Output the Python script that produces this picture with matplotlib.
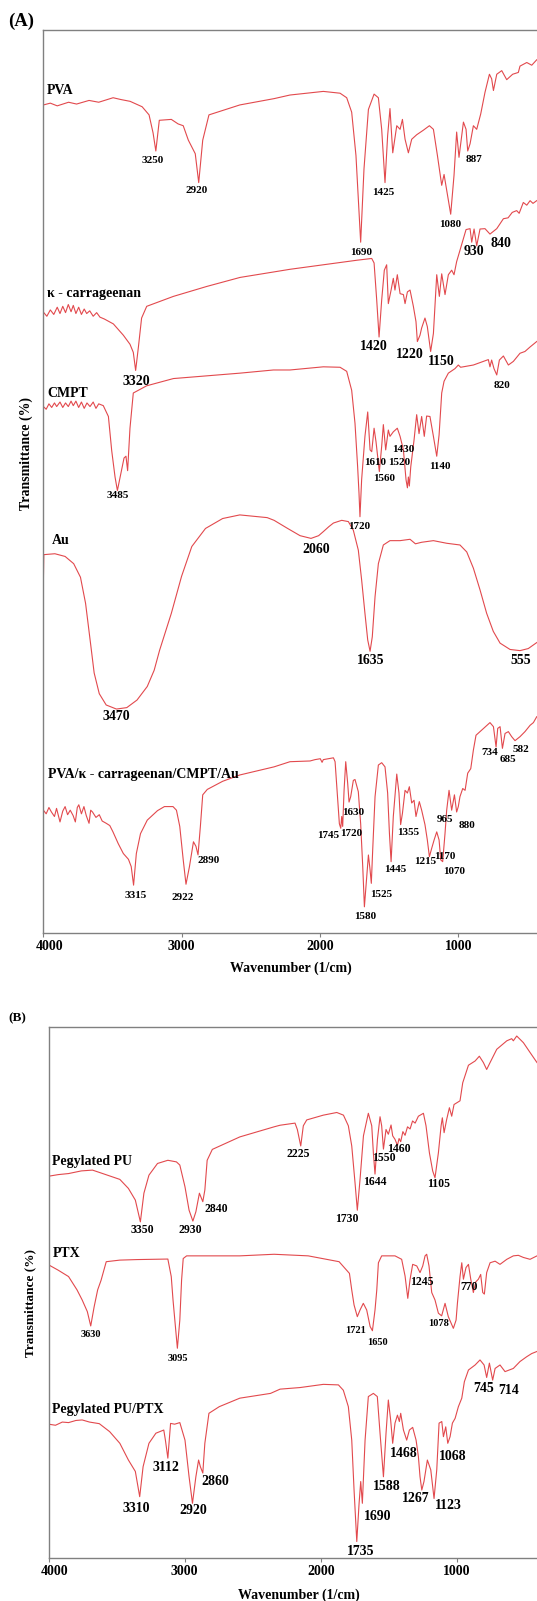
import matplotlib
matplotlib.use("Agg")
import matplotlib.pyplot as plt
import matplotlib.transforms as mtransforms
import numpy as np

# FTIR spectra, (wavenumber 1/cm, transmittance in arbitrary %)

# Panel (A)
PVA = [(4000, 91.7), (3950, 91.9), (3900, 91.6), (3818, 92.0), (3760, 91.8), (3670, 92.2), (3600, 92.0),
       (3496, 92.5), (3440, 92.3), (3373, 92.1), (3286, 91.5), (3236, 90.6), (3207, 88.6), (3187, 86.6),
       (3162, 90.0), (3075, 90.1), (3026, 89.6), (2989, 89.4), (2952, 87.8), (2902, 86.3), (2877, 83.1),
       (2848, 87.8), (2803, 90.6), (2580, 91.7), (2332, 92.4), (2217, 92.8), (2096, 93.0), (1976, 93.2),
       (1855, 93.0), (1807, 92.5), (1771, 90.9), (1740, 86.1), (1706, 76.5), (1682, 84.6), (1650, 91.2),
       (1609, 92.9), (1578, 92.5), (1554, 89.0), (1530, 83.1), (1511, 88.3), (1494, 91.3), (1474, 86.4),
       (1445, 89.4), (1421, 89.0), (1404, 90.1), (1385, 87.9), (1361, 86.4), (1337, 87.9), (1301, 88.4),
       (1253, 88.9), (1209, 89.4), (1180, 89.0), (1151, 86.1), (1120, 82.8), (1103, 84.0), (1055, 79.6),
       (1031, 83.9), (1012, 88.7), (995, 85.9), (963, 89.8), (944, 89.0), (932, 86.6), (915, 87.4),
       (891, 89.4), (867, 89.0), (838, 90.7), (807, 93.1), (775, 95.1), (759, 94.6), (746, 93.3),
       (722, 95.1), (686, 95.5), (650, 94.5), (607, 95.1), (566, 95.3), (554, 96.0), (505, 96.4),
       (469, 96.1), (433, 96.7)]

KCARR = [(4000, 68.75), (3975, 68.3), (3950, 69.0), (3925, 68.5), (3900, 69.3), (3880, 68.6), (3860, 69.4),
         (3840, 68.7), (3820, 69.6), (3800, 68.8), (3784, 69.5), (3765, 68.6), (3745, 69.3), (3725, 68.5),
         (3705, 69.1), (3687, 68.6), (3665, 68.9), (3640, 68.3), (3615, 68.7), (3591, 68.2), (3560, 68.0),
         (3494, 67.45), (3422, 66.2), (3374, 65.2), (3350, 64.3), (3333, 62.3), (3313, 64.9), (3290, 68.1),
         (3253, 69.4), (3060, 70.5), (2819, 71.6), (2578, 72.6), (2337, 73.2), (2217, 73.5), (1976, 74.0),
         (1735, 74.5), (1626, 74.7), (1609, 74.2), (1590, 70.1), (1573, 66.0), (1554, 70.1), (1535, 73.4),
         (1518, 74.0), (1506, 69.7), (1486, 71.2), (1470, 72.5), (1458, 71.2), (1441, 72.9), (1421, 70.8),
         (1397, 70.7), (1385, 69.7), (1368, 71.0), (1349, 71.2), (1325, 69.4), (1306, 67.7), (1296, 65.5),
         (1277, 66.2), (1265, 67.0), (1241, 68.1), (1224, 67.15), (1200, 64.4), (1180, 66.4), (1156, 72.9),
         (1137, 70.5), (1120, 73.0), (1096, 70.7), (1072, 72.9), (1048, 73.4), (1031, 72.9), (1012, 74.35),
         (988, 75.6), (944, 77.9), (915, 78.0), (903, 76.5), (886, 77.96), (867, 76.1), (843, 77.96),
         (807, 78.0), (771, 77.4), (722, 78.0), (674, 79.1), (640, 79.2), (610, 79.8), (578, 80.0),
         (560, 79.7), (530, 80.9), (505, 80.6), (481, 81.1), (460, 80.8), (433, 81.1)]

CMPT = [(4000, 58.3), (3980, 58.0), (3960, 58.6), (3940, 58.2), (3920, 58.7), (3904, 58.3), (3880, 58.8),
        (3860, 58.2), (3840, 58.7), (3820, 58.3), (3800, 58.9), (3784, 58.4), (3765, 58.9), (3745, 58.2),
        (3725, 58.8), (3705, 58.1), (3685, 58.7), (3663, 58.3), (3640, 58.8), (3620, 58.1), (3600, 58.6),
        (3567, 58.4), (3530, 57.2), (3506, 53.4), (3482, 50.5), (3465, 49.0), (3441, 50.8), (3417, 52.6),
        (3403, 52.8), (3391, 51.2), (3374, 55.9), (3350, 59.8), (3253, 60.6), (3060, 61.4), (2819, 61.7),
        (2578, 62.0), (2337, 62.35), (2217, 62.35), (1976, 62.7), (1855, 62.65), (1807, 62.2), (1771, 60.1),
        (1747, 56.45), (1728, 51.65), (1718, 48.7), (1711, 46.1), (1699, 50.2), (1675, 55.0), (1655, 57.7),
        (1638, 53.5), (1626, 53.3), (1609, 55.9), (1595, 54.4), (1571, 51.1), (1554, 53.9), (1542, 56.3),
        (1525, 53.5), (1506, 55.7), (1494, 55.0), (1470, 55.5), (1441, 55.9), (1421, 55.0), (1397, 53.5),
        (1378, 50.2), (1368, 49.3), (1361, 50.5), (1354, 49.5), (1344, 51.6), (1320, 54.6), (1301, 57.4),
        (1284, 55.3), (1265, 57.2), (1246, 55.0), (1229, 57.25), (1205, 57.2), (1180, 55.0), (1156, 52.8),
        (1139, 55.15), (1120, 59.8), (1103, 61.1), (1072, 62.0), (1024, 62.5), (1000, 62.9), (983, 62.65),
        (891, 62.9), (783, 63.5), (771, 62.7), (759, 63.45), (742, 62.5), (722, 61.8), (703, 63.45),
        (674, 63.9), (638, 62.9), (602, 63.3), (554, 64.2), (518, 64.4), (481, 64.9), (433, 65.5)]

AU = [(4000, 36.5), (4000, 39.1), (3997, 41.9), (3917, 42.0), (3843, 41.7), (3781, 40.9), (3732, 39.4),
      (3695, 36.5), (3657, 31.8), (3633, 28.8), (3596, 26.5), (3546, 25.25), (3472, 24.8), (3397, 24.96),
      (3323, 25.8), (3249, 27.3), (3199, 29.1), (3160, 31.3), (3075, 35.4), (3001, 39.5), (2927, 42.8),
      (2828, 44.8), (2704, 45.9), (2580, 46.3), (2382, 46.0), (2332, 45.7), (2234, 44.8), (2144, 44.0),
      (2065, 43.7), (2010, 44.0), (1976, 44.45), (1936, 45.0), (1903, 45.4), (1843, 45.7), (1795, 45.56),
      (1759, 44.6), (1723, 42.4), (1699, 39.1), (1675, 35.4), (1655, 32.45), (1638, 31.2), (1622, 32.8),
      (1602, 37.25), (1578, 40.9), (1542, 42.97), (1494, 43.45), (1421, 43.45), (1349, 43.6), (1310, 43.1),
      (1265, 43.27), (1180, 43.45), (1084, 43.16), (988, 42.97), (939, 42.2), (891, 40.4), (843, 38.0),
      (795, 35.4), (747, 33.4), (698, 32.1), (626, 31.4), (554, 31.27), (494, 31.5), (433, 32.16)]

COMPOSITE = [(4000, 13.6), (3980, 13.2), (3960, 13.9), (3942, 13.4), (3920, 12.9), (3905, 13.8), (3880, 12.3),
             (3860, 13.5), (3843, 14.0), (3825, 13.1), (3806, 13.6), (3785, 13.0), (3769, 12.3), (3755, 13.9),
             (3744, 14.2), (3725, 13.2), (3707, 14.0), (3690, 13.0), (3670, 12.15), (3658, 13.6), (3645, 13.4),
             (3620, 12.8), (3596, 13.1), (3575, 12.4), (3546, 12.15), (3520, 11.9), (3497, 11.2), (3459, 9.9),
             (3422, 8.8), (3385, 8.16), (3365, 7.35), (3348, 5.3), (3328, 8.8), (3298, 11.0), (3249, 12.5),
             (3175, 13.55), (3125, 14.0), (3063, 14.0), (3038, 13.6), (3014, 11.8), (2989, 8.1), (2969, 5.4),
             (2944, 7.35), (2915, 10.1), (2897, 9.6), (2882, 8.65), (2865, 11.8), (2848, 15.3), (2815, 15.9),
             (2704, 16.8), (2580, 17.5), (2456, 17.95), (2332, 18.4), (2217, 18.97), (2072, 19.05),
             (2036, 19.2), (1998, 19.3), (1985, 18.9), (1976, 19.2), (1903, 19.4), (1891, 18.97), (1875, 15.5),
             (1860, 12.1), (1850, 11.6), (1843, 12.9), (1836, 11.8), (1826, 15.8), (1814, 18.97), (1800, 16.6),
             (1790, 14.5), (1778, 15.1), (1759, 16.9), (1747, 17.0), (1723, 15.65), (1706, 12.1), (1691, 7.35),
             (1679, 2.9), (1662, 6.2), (1650, 8.64), (1638, 7.0), (1629, 5.5), (1619, 9.2), (1602, 15.1),
             (1578, 18.6), (1554, 18.86), (1530, 18.4), (1511, 15.5), (1498, 11.04), (1486, 7.9), (1470, 12.9),
             (1445, 17.6), (1429, 15.5), (1417, 12.0), (1404, 13.25), (1385, 15.8), (1368, 15.5), (1354, 16.2),
             (1337, 14.4), (1320, 14.7), (1306, 12.9), (1282, 14.55), (1265, 13.6), (1241, 12.0), (1224, 10.3),
             (1209, 8.45), (1192, 9.4), (1175, 10.3), (1156, 11.2), (1139, 10.3), (1127, 8.1), (1113, 7.9),
             (1096, 11.04), (1084, 13.6), (1067, 15.8), (1048, 13.6), (1028, 15.3), (1012, 13.4), (1000, 14.0),
             (988, 15.1), (968, 16.0), (951, 15.8), (932, 17.7), (910, 18.2), (891, 20.26), (872, 21.9),
             (843, 22.3), (807, 22.8), (771, 23.3), (746, 22.85), (727, 20.6), (715, 22.66), (698, 22.85),
             (681, 20.45), (662, 22.1), (638, 22.3), (614, 21.74), (590, 21.3), (554, 21.74), (518, 22.3),
             (481, 23.0), (457, 23.3), (433, 23.95)]

# Panel (B)
PEG_PU = [(4000, 71.9), (3930, 72.2), (3854, 72.4), (3760, 72.9), (3678, 73.05), (3603, 72.4), (3477, 71.3),
          (3414, 69.6), (3363, 67.4), (3326, 63.3), (3300, 68.7), (3263, 72.1), (3200, 74.3), (3124, 74.9),
          (3061, 74.6), (3036, 74.0), (2998, 69.9), (2968, 65.5), (2940, 63.45), (2918, 65.2), (2892, 68.7),
          (2867, 67.1), (2852, 69.3), (2835, 74.9), (2797, 76.95), (2595, 79.3), (2343, 81.2), (2299, 81.5),
          (2189, 81.9), (2172, 80.7), (2147, 77.6), (2128, 81.4), (2103, 82.5), (1981, 83.4), (1882, 83.9),
          (1833, 83.4), (1797, 81.4), (1772, 77.6), (1748, 70.7), (1731, 65.5), (1711, 71.3), (1686, 79.5),
          (1650, 83.75), (1625, 81.4), (1613, 76.3), (1601, 72.3), (1583, 78.85), (1564, 83.1), (1552, 81.4),
          (1539, 77.0), (1520, 80.7), (1503, 79.8), (1483, 81.55), (1471, 79.5), (1454, 78.85), (1436, 77.7),
          (1424, 79.0), (1412, 78.4), (1396, 80.3), (1380, 79.6), (1362, 81.2), (1343, 80.8), (1325, 82.3),
          (1306, 81.9), (1282, 83.2), (1245, 83.75), (1226, 81.4), (1201, 76.3), (1177, 72.9), (1160, 71.6),
          (1135, 76.3), (1115, 81.4), (1106, 82.9), (1093, 80.1), (1074, 82.6), (1054, 84.8), (1037, 83.2),
          (1020, 85.4), (976, 86.1), (956, 89.5), (914, 92.8), (865, 93.6), (834, 94.5), (804, 93.3),
          (780, 92.0), (755, 93.3), (706, 95.8), (632, 97.4), (596, 97.8), (584, 97.4), (559, 98.3),
          (510, 97.05), (461, 95.2), (410, 93.3)]

PTX = [(4000, 55.2), (3930, 54.2), (3854, 53.0), (3792, 50.5), (3754, 48.6), (3716, 46.4), (3691, 43.7),
       (3666, 47.3), (3640, 50.5), (3615, 52.3), (3577, 55.8), (3477, 56.1), (3351, 56.2), (3124, 56.3),
       (3099, 53.0), (3086, 48.6), (3066, 42.9), (3054, 39.5), (3036, 44.8), (3023, 52.35), (3011, 56.4),
       (2986, 56.9), (2595, 56.9), (2343, 57.2), (2092, 56.9), (1865, 55.8), (1789, 53.6), (1772, 50.47),
       (1755, 47.65), (1731, 45.45), (1711, 46.7), (1687, 47.96), (1662, 46.7), (1637, 43.6), (1620, 42.8),
       (1601, 46.7), (1588, 50.47), (1576, 55.6), (1552, 56.9), (1454, 56.9), (1405, 56.25), (1380, 53.1),
       (1360, 48.9), (1343, 52.5), (1324, 55.3), (1294, 55.0), (1270, 53.75), (1250, 55.0), (1233, 56.9),
       (1221, 57.2), (1204, 55.0), (1184, 50.0), (1160, 48.6), (1135, 46.1), (1111, 45.6), (1086, 47.96),
       (1062, 45.45), (1025, 43.25), (1005, 44.8), (995, 48.0), (976, 53.0), (963, 55.6), (951, 52.5),
       (932, 54.7), (914, 55.3), (897, 52.5), (878, 50.0), (860, 52.0), (841, 52.5), (824, 53.4),
       (809, 50.0), (797, 49.7), (780, 53.75), (755, 55.6), (718, 55.9), (682, 55.3), (632, 56.25),
       (584, 56.9), (547, 57.0), (510, 56.6), (461, 56.25), (410, 56.9)]

PEG_PU_PTX = [(4000, 25.2), (3950, 25.0), (3900, 25.6), (3854, 25.5), (3800, 25.9), (3754, 26.0), (3700, 25.6),
              (3628, 25.3), (3552, 23.8), (3477, 21.6), (3414, 18.45), (3363, 16.3), (3331, 11.55), (3306, 17.2),
              (3263, 21.6), (3212, 23.5), (3154, 24.1), (3142, 22.2), (3124, 18.8), (3104, 25.35), (3074, 25.2),
              (3036, 25.5), (2998, 22.2), (2968, 15.3), (2943, 10.3), (2918, 15.3), (2898, 18.45), (2885, 17.2),
              (2867, 16.0), (2852, 21.6), (2822, 27.25), (2746, 28.5), (2595, 30.1), (2369, 31.0), (2299, 31.8),
              (2152, 32.1), (1981, 32.7), (1870, 32.6), (1834, 31.6), (1797, 28.5), (1772, 22.2), (1755, 12.8),
              (1735, 3.1), (1718, 10.3), (1706, 14.4), (1694, 10.3), (1674, 22.2), (1650, 30.4), (1613, 31.0),
              (1584, 30.4), (1564, 23.5), (1539, 15.3), (1520, 23.5), (1503, 29.75), (1486, 26.0), (1471, 21.6),
              (1454, 25.4), (1436, 26.9), (1422, 25.7), (1412, 27.25), (1392, 24.1), (1368, 22.2), (1348, 24.1),
              (1324, 24.6), (1299, 22.2), (1282, 19.1), (1270, 15.3), (1257, 12.8), (1241, 14.4), (1216, 18.45),
              (1191, 16.6), (1167, 11.2), (1147, 16.6), (1130, 25.4), (1110, 25.7), (1098, 22.85), (1081, 24.7),
              (1066, 21.6), (1049, 22.85), (1032, 25.4), (1012, 26.3), (988, 28.5), (963, 30.1), (944, 33.2),
              (914, 35.4), (865, 36.35), (829, 37.3), (799, 36.35), (780, 34.0), (760, 36.7), (736, 33.5),
              (718, 35.7), (682, 36.35), (645, 35.1), (584, 35.7), (535, 37.0), (486, 37.9), (449, 38.5),
              (410, 38.9)]

SPECTRA_A = [PVA, KCARR, CMPT, AU, COMPOSITE]
SPECTRA_B = [PEG_PU, PTX, PEG_PU_PTX]

NAMES_A = [("PVA", 3974, 93.3), ("κ - carrageenan", 3972, 70.8), ("CMPT", 3972, 59.7),
           ("Au", 3942, 43.5), ("PVA/κ - carrageenan/CMPT/Au", 3967, 17.5)]
NAMES_B = [("Pegylated PU", 3973, 74.6), ("PTX", 3973, 57.4), ("Pegylated PU/PTX", 3973, 28.05)]

# peak labels: text, wavenumber, transmittance, font size
PEAKS_A = [("3250", 3207, 85.6, 8), ("2920", 2890, 82.2, 8), ("1690", 1701, 75.4, 8), ("1425", 1540, 82.0, 8),
           ("1080", 1057, 78.5, 8), ("887", 889, 85.7, 8), ("930", 884, 75.45, 10), ("840", 693, 76.4, 10),
           ("1420", 1614, 65.0, 10), ("1220", 1354, 64.1, 10), ("1150", 1124, 63.3, 10), ("3320", 3328, 61.05, 10),
           ("820", 686, 60.6, 8), ("1430", 1396, 53.5, 8), ("1610", 1602, 52.1, 8), ("1520", 1429, 52.1, 8),
           ("1560", 1533, 50.3, 8), ("1140", 1136, 51.7, 8), ("3485", 3459, 48.5, 8), ("1720", 1713, 45.0, 8),
           ("2060", 2030, 42.5, 10), ("1635", 1632, 30.2, 10), ("555", 549, 30.2, 10), ("3470", 3472, 24.0, 10),
           ("734", 772, 20.0, 8), ("685", 644, 19.2, 8), ("582", 544, 20.3, 8), ("1630", 1758, 13.35, 8),
           ("965", 1094, 12.6, 8), ("880", 938, 11.9, 8), ("1745", 1944, 10.75, 8), ("1720", 1775, 10.97, 8),
           ("1355", 1362, 11.15, 8), ("2890", 2803, 8.0, 8), ("1170", 1099, 8.5, 8), ("1215", 1236, 7.9, 8),
           ("1445", 1453, 7.0, 8), ("1070", 1032, 6.8, 8), ("1525", 1557, 4.3, 8), ("3315", 3331, 4.14, 8),
           ("2922", 2991, 3.96, 8), ("1580", 1676, 1.8, 8)]
PEAKS_B = [("3350", 3308, 61.75, 8.5), ("2930", 2960, 61.75, 8.5), ("2840", 2771, 65.8, 8.5),
           ("2225", 2162, 76.1, 8.5), ("1730", 1809, 63.8, 8.5), ("1644", 1605, 70.9, 8.5),
           ("1550", 1537, 75.4, 8.5), ("1460", 1429, 77.1, 8.5), ("1105", 1135, 70.4, 8.5),
           ("3630", 3691, 42.0, 7.5), ("3095", 3049, 37.6, 7.5), ("1721", 1744, 42.9, 7.5),
           ("1650", 1580, 40.55, 7.5), ("1245", 1257, 52.0, 8.5), ("1078", 1135, 44.2, 7.5),
           ("770", 907, 51.1, 8.5), ("3112", 3137, 17.0, 10), ("2860", 2779, 14.4, 10), ("3310", 3358, 9.35, 10),
           ("2920", 2940, 9.0, 10), ("745", 804, 31.95, 10), ("714", 620, 31.6, 10), ("1468", 1392, 19.6, 10),
           ("1068", 1026, 19.1, 10), ("1588", 1517, 13.4, 10), ("1267", 1298, 11.2, 10), ("1123", 1059, 9.8, 10),
           ("1690", 1580, 7.9, 10), ("1735", 1709, 1.2, 10)]

X_TICKS = [4000, 3000, 2000, 1000]

SERIF = ["Liberation Serif", "DejaVu Serif"]
LINE_COLOR = "#e2494d"
FRAME_COLOR = "#808080"

W, H = 537, 1601


def fx(px):
    return px / W


def fy(py):
    return 1 - py / H


def draw_panel(fig, ax, spectra, names, peaks, xmin):
    for spectrum in spectra:
        arr = np.array(spectrum, dtype=float)
        ax.plot(arr[:, 0], arr[:, 1], color=LINE_COLOR, lw=0.8)
    for text, wn, t in names:
        ax.text(wn, t, text, ha="left", va="center", fontsize=10, fontweight="bold", family=SERIF)
    for text, wn, t, size in peaks:
        ax.text(wn, t, text, ha="center", va="center", fontsize=size, fontweight="bold", family=SERIF)
    ax.set_xlim(4000, xmin)
    ax.set_ylim(0, 100)
    ax.set_xticks(X_TICKS)
    ax.set_xticklabels([str(t) for t in X_TICKS], fontsize=10, fontweight="bold", family=SERIF)
    ax.set_yticks([])
    ax.tick_params(axis="x", direction="out", length=3, width=0.8, color=FRAME_COLOR, pad=2)
    # the 4000 label sits a little right of its tick in the original
    first = ax.get_xticklabels()[0]
    first.set_transform(first.get_transform() + mtransforms.ScaledTranslation(0.06, 0, fig.dpi_scale_trans))
    for side in ["left", "bottom", "top"]:
        ax.spines[side].set_color(FRAME_COLOR)
        ax.spines[side].set_linewidth(1.0)
    ax.spines["right"].set_visible(False)


fig = plt.figure(figsize=(W / 100, H / 100), dpi=100)

ax_a = fig.add_axes([fx(43.4), fy(933), 1 - fx(43.4), (933 - 30) / H])
draw_panel(fig, ax_a, SPECTRA_A, NAMES_A, PEAKS_A, 431)

ax_b = fig.add_axes([fx(48.7), fy(1558), 1 - fx(48.7), (1558 - 1027) / H])
draw_panel(fig, ax_b, SPECTRA_B, NAMES_B, PEAKS_B, 410)

fig.text(fx(21), fy(21.5), "(A)", ha="center", va="center", fontsize=13.5, fontweight="bold", family=SERIF)
fig.text(fx(17), fy(1018), "(B)", ha="center", va="center", fontsize=9.5, fontweight="bold", family=SERIF)

fig.text(fx(26.5), fy(454), "Transmittance (%)", rotation=90, ha="center", va="center",
         fontsize=10, fontweight="bold", family=SERIF)
fig.text(fx(30), fy(1303), "Transmittance (%)", rotation=90, ha="center", va="center",
         fontsize=9.5, fontweight="bold", family=SERIF)

fig.text(fx(291), fy(968), "Wavenumber (1/cm)", ha="center", va="center",
         fontsize=10, fontweight="bold", family=SERIF)
fig.text(fx(299), fy(1595), "Wavenumber (1/cm)", ha="center", va="center",
         fontsize=10, fontweight="bold", family=SERIF)

fig.savefig("out.png", dpi=100)
